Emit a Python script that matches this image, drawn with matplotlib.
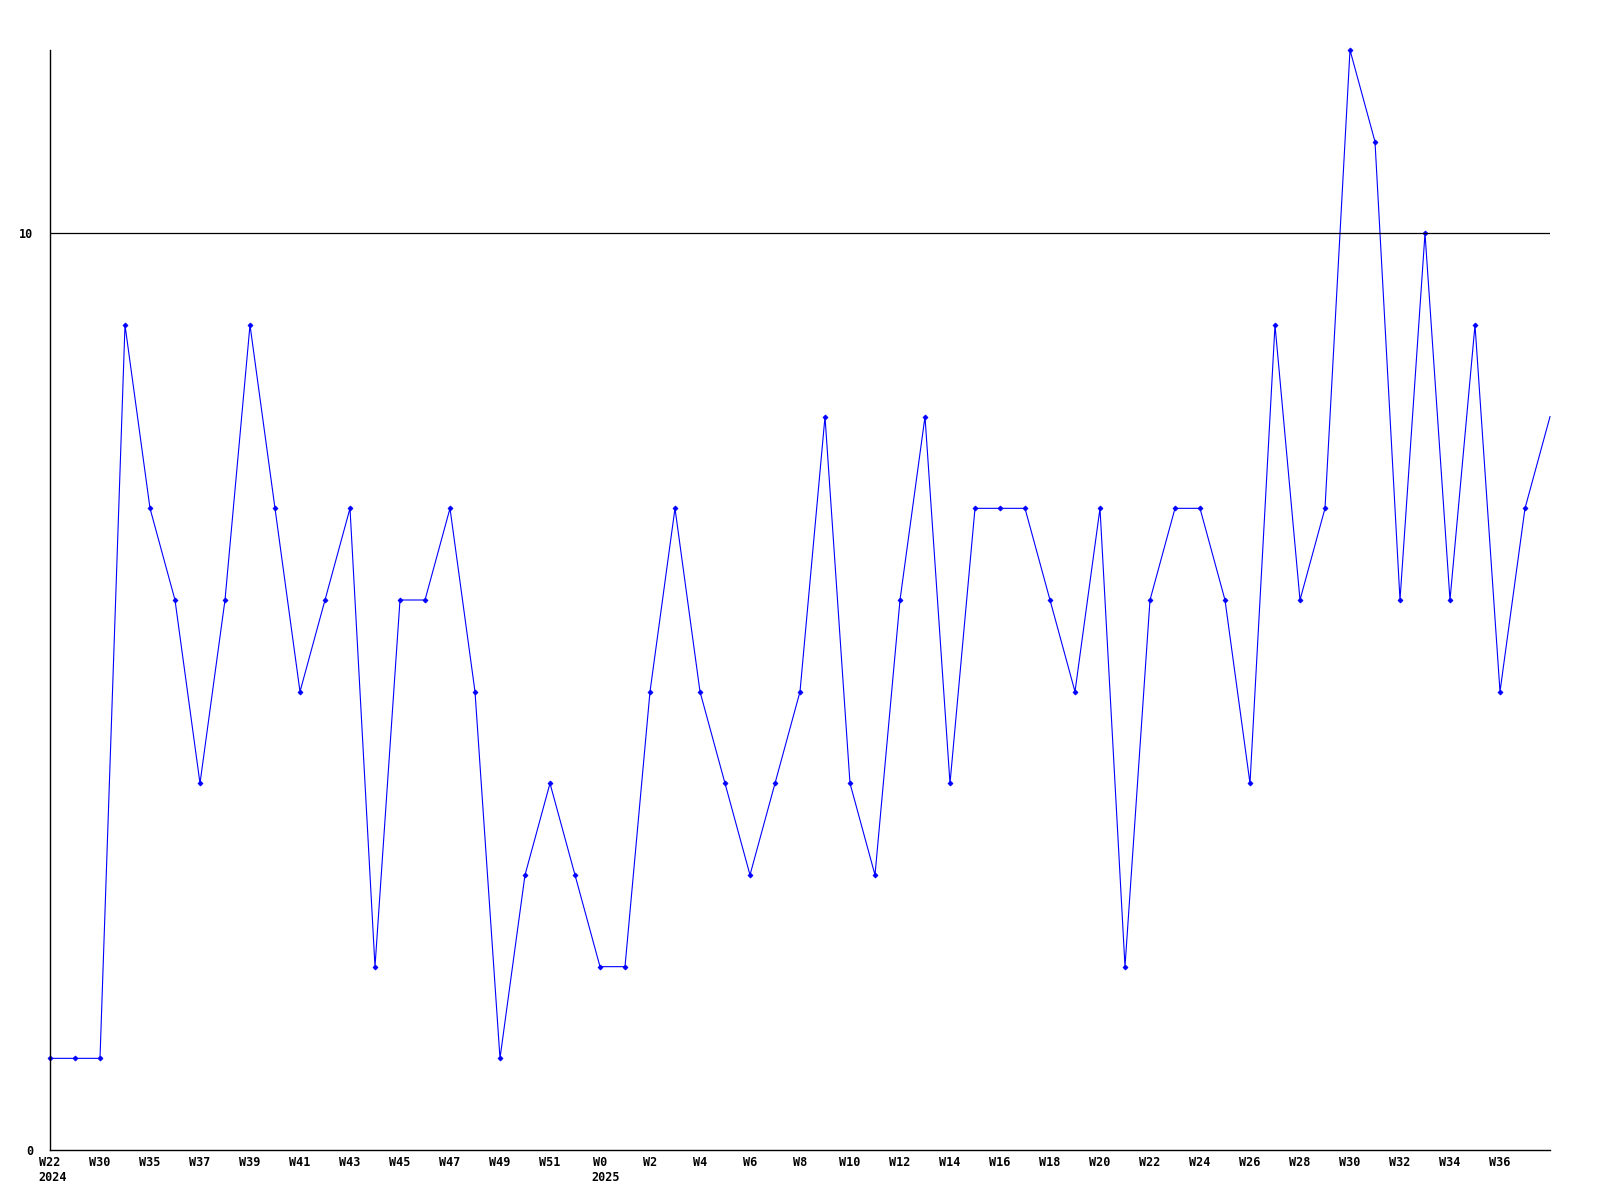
import matplotlib
matplotlib.use("Agg")
from matplotlib import pyplot as plt

# weekly counts, one point per week
values = [1, 1, 1, 9, 7, 6, 4, 6, 9, 7, 5, 6, 7, 2, 6, 6, 7, 5, 1, 3,
          4, 3, 2, 2, 5, 7, 5, 4, 3, 4, 5, 8, 4, 3, 6, 8, 4, 7, 7, 7,
          6, 5, 7, 2, 6, 7, 7, 6, 4, 9, 6, 7, 12, 11, 6, 10, 6, 9, 5, 7, 8]
# labels on every second point
week_labels = ['W22', 'W30', 'W35', 'W37', 'W39', 'W41', 'W43', 'W45', 'W47', 'W49',
               'W51', 'W0', 'W2', 'W4', 'W6', 'W8', 'W10', 'W12', 'W14', 'W16',
               'W18', 'W20', 'W22', 'W24', 'W26', 'W28', 'W30', 'W32', 'W34', 'W36']
year_labels = {'W22': '2024', 'W0': '2025'}  # shown only under first label and W0

fs = 8.5
font = dict(family='DejaVu Sans Mono', weight='bold', size=fs)

fig = plt.figure(figsize=(16, 12), dpi=100)
ax = fig.add_axes([50 / 1600, 50 / 1200, 1500 / 1600, 1100 / 1200])

x = list(range(len(values)))
# last point sits on the edge, no marker there
ax.plot(x, values, color='#0000ff', linewidth=0.8, marker='D', markersize=2.5,
        markeredgewidth=0.6, markevery=list(range(len(values) - 1)), clip_on=False)

ax.axhline(10, color='black', linewidth=0.9)

ax.set_xlim(0, len(values) - 1)
ax.set_ylim(0, 12)

ax.spines['top'].set_visible(False)
ax.spines['right'].set_visible(False)
ax.spines['left'].set_linewidth(1)
ax.spines['bottom'].set_linewidth(1)

tick_pos = x[::2][:len(week_labels)]
ax.set_xticks(tick_pos)
ax.set_xticklabels(week_labels, fontdict=font)
ax.set_yticks([0, 10])
ax.set_yticklabels(['0', '10'], fontdict=font)
ax.tick_params(axis='both', length=0)
ax.tick_params(axis='x', pad=4)
ax.tick_params(axis='y', pad=12)

# year under the label, left-aligned with it
seen = set()
for p, lab in zip(tick_pos, week_labels):
    if lab in year_labels and lab not in seen:
        seen.add(lab)
        off = -len(lab) * 0.6 * fs / 2 - 1
        ax.annotate(year_labels[lab], xy=(p, 0), xycoords=('data', 'axes fraction'),
                    xytext=(off, -15), textcoords='offset points',
                    ha='left', va='top', **font)

fig.savefig('out.png', dpi=100)
